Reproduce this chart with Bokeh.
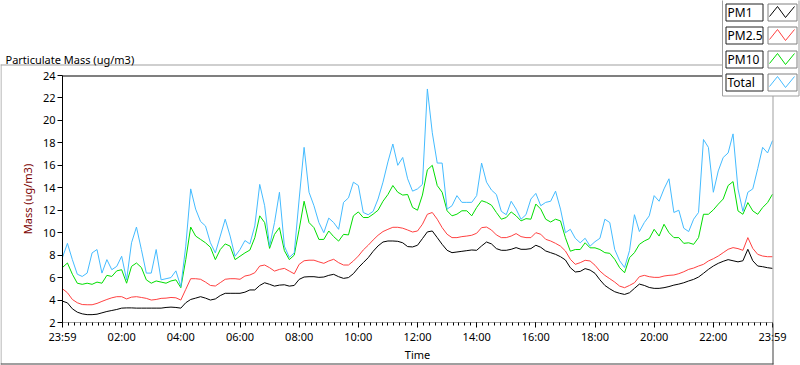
from bokeh.plotting import figure
from bokeh.models import Range1d, FixedTicker, BoxAnnotation, Label, Arrow
from bokeh.embed import file_html
from bokeh.resources import INLINE

# ---------------- data (minutes after 23:59, values in ug/m3) ----------------
minutes = list(range(0, 1441, 10))

pm1 = [3.9, 3.75, 3.22, 2.92, 2.77, 2.7, 2.7, 2.74, 2.86, 2.98, 3.07, 3.16,
       3.28, 3.3, 3.3, 3.28, 3.28, 3.28, 3.28, 3.28, 3.28, 3.34, 3.37, 3.34,
       3.28, 3.76, 4.05, 4.17, 4.3, 4.17, 4.0, 4.1, 4.4, 4.6, 4.6, 4.6,
       4.6, 4.7, 4.9, 4.9, 5.3, 5.54, 5.4, 5.24, 5.33, 5.36, 5.24, 5.3,
       5.84, 6.05, 6.08, 6.08, 6.02, 6.05, 6.2, 6.29, 6.08, 5.93, 6.0, 6.35,
       6.88, 7.33, 7.77, 8.34, 8.82, 9.17, 9.26, 9.26, 9.23, 9.1, 8.76, 8.73,
       8.88, 9.47, 10.07, 10.15, 9.56, 8.96, 8.43, 8.22, 8.28, 8.34, 8.4, 8.46,
       8.43, 8.82, 9.17, 9.0, 8.58, 8.43, 8.43, 8.52, 8.67, 8.52, 8.52, 8.58,
       8.88, 8.7, 8.37, 8.22, 8.07, 7.86, 7.57, 6.88, 6.5, 6.55, 6.8, 6.67,
       6.38, 5.8, 5.3, 5.0, 4.74, 4.6, 4.5, 4.65, 5.04, 5.42, 5.3, 5.12,
       5.04, 5.04, 5.1, 5.2, 5.33, 5.42, 5.54, 5.7, 5.84, 6.05, 6.38, 6.73,
       7.03, 7.27, 7.45, 7.6, 7.5, 7.4, 7.5, 8.52, 7.5, 7.03, 6.97, 6.88,
       6.82]

pm25 = [5.0, 4.65, 4.05, 3.76, 3.6, 3.58, 3.58, 3.7, 3.88, 4.05, 4.2, 4.3,
        4.3, 4.1, 4.26, 4.3, 4.23, 4.15, 4.0, 4.05, 4.15, 4.17, 4.23, 4.2,
        4.0, 4.95, 5.9, 5.9, 5.85, 5.6, 5.3, 5.25, 5.55, 5.85, 5.9, 5.9,
        5.85, 6.14, 6.23, 6.43, 7.03, 7.12, 6.88, 6.58, 6.73, 6.82, 6.58, 6.34,
        7.18, 7.5, 7.55, 7.55, 7.4, 7.27, 7.48, 7.63, 7.33, 7.12, 7.12, 7.48,
        7.92, 8.46, 8.88, 9.35, 9.77, 10.1, 10.3, 10.48, 10.48, 10.4, 10.24, 10.06,
        10.15, 10.75, 11.64, 11.8, 11.2, 10.45, 9.86, 9.56, 9.56, 9.65, 9.7, 9.77,
        9.95, 10.45, 10.5, 10.24, 9.8, 9.56, 9.56, 9.7, 9.92, 9.65, 9.56, 9.56,
        10.0, 9.86, 9.41, 9.26, 9.05, 8.8, 8.37, 7.63, 7.18, 7.33, 7.54, 7.48,
        7.1, 6.58, 6.2, 5.9, 5.6, 5.24, 5.1, 5.3, 5.54, 6.08, 6.2, 6.08,
        6.02, 6.02, 6.14, 6.2, 6.23, 6.35, 6.52, 6.73, 6.85, 7.03, 7.18, 7.48,
        7.68, 7.92, 8.22, 8.52, 8.67, 8.58, 8.43, 9.56, 8.6, 8.07, 7.92, 7.86,
        7.86]

pm10 = [6.9, 7.3, 6.3, 5.5, 5.4, 5.5, 5.4, 5.6, 5.5, 6.2, 6.1, 6.6,
        6.7, 5.5, 7.0, 7.3, 6.9, 5.8, 5.5, 5.7, 5.6, 5.5, 5.7, 5.8,
        5.1, 7.6, 10.5, 9.7, 9.4, 9.1, 8.7, 7.6, 8.5, 9.0, 8.8, 7.6,
        7.9, 8.2, 8.45, 9.55, 11.5, 10.9, 8.6, 9.85, 10.45, 8.4, 7.6, 8.0,
        10.3, 12.8, 10.9, 10.45, 9.4, 9.4, 10.15, 9.65, 9.25, 9.85, 9.8, 11.5,
        11.85, 11.35, 11.35, 11.65, 12.0, 12.8, 13.4, 14.2, 13.6, 13.35, 13.4, 12.25,
        12.0, 13.35, 15.6, 16.0, 14.2, 13.6, 11.95, 11.5, 11.65, 11.95, 11.95, 11.5,
        12.25, 12.85, 12.7, 12.45, 11.8, 11.2, 11.35, 11.85, 11.5, 11.05, 11.25, 11.2,
        12.55, 12.1, 11.2, 10.95, 11.2, 11.05, 9.55, 8.35, 8.5, 8.5, 9.1, 8.65,
        8.65, 8.5, 8.22, 8.16, 7.63, 6.88, 6.43, 7.77, 8.22, 8.96, 9.26, 9.47,
        10.3, 9.7, 10.75, 10.0, 9.56, 9.56, 9.05, 9.1, 8.96, 9.56, 11.64, 11.64,
        12.03, 12.54, 13.0, 14.2, 14.55, 11.94, 11.64, 12.68, 11.94, 11.64, 12.24, 12.68,
        13.43]

total = [7.8, 9.05, 7.6, 6.3, 6.1, 6.4, 8.2, 8.5, 6.4, 7.6, 6.7, 7.0,
         7.9, 5.8, 9.1, 10.5, 8.5, 6.4, 6.4, 8.5, 5.8, 5.9, 6.0, 6.6,
         5.2, 8.8, 13.9, 12.1, 11.0, 10.6, 9.1, 8.2, 9.7, 11.2, 9.7, 7.9,
         8.5, 9.3, 9.0, 10.6, 14.3, 12.4, 8.8, 10.9, 13.6, 8.8, 7.8, 8.2,
         13.0, 17.6, 13.6, 12.4, 10.9, 10.0, 11.3, 10.9, 10.3, 12.7, 13.1, 14.5,
         14.2, 11.8, 11.6, 11.9, 13.0, 14.5, 16.3, 17.9, 16.0, 16.7, 14.8, 13.7,
         13.9, 14.3, 22.8, 18.9, 16.2, 16.2, 12.1, 12.4, 13.3, 12.7, 12.7, 12.7,
         13.3, 16.2, 14.5, 13.8, 13.4, 11.9, 11.6, 12.8, 12.1, 11.2, 11.6, 13.0,
         13.5, 12.4, 12.7, 12.8, 13.7, 12.1, 10.0, 10.3, 9.5, 9.1, 9.5, 8.8,
         9.2, 9.5, 11.2, 10.9, 8.5, 7.5, 6.9, 8.4, 11.6, 10.1, 10.9, 11.5,
         13.3, 12.8, 13.9, 14.8, 11.8, 12.0, 10.4, 10.1, 11.2, 11.8, 18.3, 17.6,
         13.6, 15.5, 16.7, 17.1, 18.8, 13.9, 11.9, 13.6, 13.9, 15.7, 17.6, 17.1,
         18.2]

series_names = ["PM1", "PM2.5", "PM10", "Total"]
series_colors = ["#000000", "#ff4040", "#00dd00", "#44bbff"]

x_tick_minutes = [0, 120, 240, 360, 480, 600, 720, 840, 960, 1080, 1200, 1320, 1440]
x_tick_labels = ["23:59", "02:00", "04:00", "06:00", "08:00", "10:00", "12:00",
                 "14:00", "16:00", "18:00", "20:00", "22:00", "23:59"]
x_minor_minutes = list(range(0, 1441, 12))
y_ticks = [2, 4, 6, 8, 10, 12, 14, 16, 18, 20, 22, 24]
X_MIN, X_MAX = 0, 1440
Y_MIN, Y_MAX = 2, 24

# ---------------- layout (page pixel coordinates) ----------------
W, H = 800, 365
FL, FR, FT, FB = 62, 772, 75, 322   # plot area edges on the page
FONT = "Noto Sans"

# the canvas is the whole frame; the ranges are widened so that the data
# window [X_MIN, X_MAX] x [Y_MIN, Y_MAX] lands on the plot area FL..FR, FT..FB
kx = (X_MAX - X_MIN) / (FR - FL)
ky = (Y_MAX - Y_MIN) / (FB - FT)
x_range = Range1d(X_MIN - FL * kx, X_MIN + (W - FL) * kx)
y_range = Range1d(Y_MIN - (H - FB) * ky, Y_MIN + FB * ky)


def sx(px):
    return px


def sy(py):
    return H - py


p = figure(width=W, height=H, output_backend="svg", toolbar_location=None,
           x_range=x_range, y_range=y_range,
           min_border=0, min_border_left=0, min_border_right=0,
           min_border_top=0, min_border_bottom=0)
p.outline_line_color = None
p.grid.visible = False
p.background_fill_color = "white"
p.border_fill_color = "white"

for ys, col in zip([pm1, pm25, pm10, total], series_colors):
    p.line(minutes, ys, line_color=col, line_width=1)

# x axis
xa = p.xaxis[0]
xa.fixed_location = Y_MIN
xa.bounds = (X_MIN, X_MAX)
xa.ticker = FixedTicker(ticks=x_tick_minutes, minor_ticks=x_minor_minutes)
xa.major_label_overrides = {m: l for m, l in zip(x_tick_minutes, x_tick_labels)}
xa.axis_line_color = "#a0a0a0"
xa.major_tick_line_color = "#000000"
xa.minor_tick_line_color = "#000000"
xa.major_tick_in = 0
xa.major_tick_out = 5
xa.minor_tick_in = 0
xa.minor_tick_out = 3
xa.major_label_standoff = 1
xa.major_label_text_font = FONT
xa.major_label_text_font_size = "11px"
xa.major_label_text_color = "#000000"
xa.axis_label = "Time"
xa.axis_label_text_font = FONT
xa.axis_label_text_font_size = "11px"
xa.axis_label_text_font_style = "normal"
xa.axis_label_text_color = "#000000"
xa.axis_label_standoff = 0

# y axis
ya = p.yaxis[0]
ya.fixed_location = X_MIN
ya.bounds = (Y_MIN, Y_MAX)
ya.ticker = FixedTicker(ticks=y_ticks)
ya.axis_line_color = "#000000"
ya.major_tick_line_color = "#000000"
ya.minor_tick_line_color = None
ya.major_tick_in = 0
ya.major_tick_out = 5
ya.major_label_standoff = 2
ya.major_label_text_font = FONT
ya.major_label_text_font_size = "11px"
ya.major_label_text_color = "#000000"
ya.axis_label = "Mass (ug/m3)"
ya.axis_label_text_font = FONT
ya.axis_label_text_font_size = "11px"
ya.axis_label_text_font_style = "normal"
ya.axis_label_text_color = "#7a0000"
ya.axis_label_standoff = 5


def hbar(x0, x1, y0, y1, color):
    p.add_layout(BoxAnnotation(left=sx(x0), right=sx(x1), top=sy(y0), bottom=sy(y1),
                               left_units="screen", right_units="screen",
                               top_units="screen", bottom_units="screen",
                               fill_color=color, fill_alpha=1, line_color=None))


# frame lines
hbar(FL, 722, FT, FT + 1, "#000000")          # plot top edge
hbar(FR, FR + 1, 95, FB + 1, "#a0a0a0")       # plot right edge
hbar(FR, FR + 1, FB + 1, 364, "#404040")
hbar(0, 722, 64, 65, "#a0a0a0")               # outer top
hbar(0, 1, 64, 364, "#a0a0a0")                # outer left
hbar(0, FR + 1, 363, 364, "#404040")          # outer bottom

# title
p.add_layout(Label(x=sx(5), y=sy(59), x_units="screen", y_units="screen",
                   text="Particulate Mass (ug/m3)", text_font=FONT,
                   text_font_size="11px", text_color="#000000",
                   text_baseline="alphabetic", text_align="left"))

# legend panel
p.add_layout(BoxAnnotation(left=sx(722), right=sx(798.5), top=sy(-1), bottom=sy(95.5),
                           left_units="screen", right_units="screen",
                           top_units="screen", bottom_units="screen",
                           fill_color="white", fill_alpha=1,
                           line_color="#a0a0a0", line_alpha=1, line_width=1))
for i, (name, col) in enumerate(zip(series_names, series_colors)):
    top = round(3 + i * 23.3)
    bot = top + 17
    p.add_layout(BoxAnnotation(left=sx(725.5), right=sx(762.5), top=sy(top + 0.5), bottom=sy(bot + 0.5),
                               left_units="screen", right_units="screen",
                               top_units="screen", bottom_units="screen",
                               fill_color="white", fill_alpha=1,
                               line_color="#202020", line_alpha=1, line_width=1))
    p.add_layout(BoxAnnotation(left=sx(767.5), right=sx(796.5), top=sy(top + 0.5), bottom=sy(bot + 0.5),
                               left_units="screen", right_units="screen",
                               top_units="screen", bottom_units="screen",
                               fill_color="white", fill_alpha=1,
                               line_color="#808080", line_alpha=1, line_width=1))
    p.add_layout(Label(x=sx(727), y=sy(top + 9), x_units="screen", y_units="screen",
                       text=name, text_font=FONT, text_font_size="12px",
                       text_color="#000000", text_baseline="middle", text_align="left"))
    zz = [(769, bot - 4), (777, top + 3), (785, bot - 3), (794, top + 3)]
    for (xa0, ya0), (xa1, ya1) in zip(zz[:-1], zz[1:]):
        p.add_layout(Arrow(x_start=sx(xa0), y_start=sy(ya0), x_end=sx(xa1), y_end=sy(ya1),
                           start_units="screen", end_units="screen", start=None, end=None,
                           line_color=col, line_width=1))

open("out.html", "w").write(file_html(p, INLINE))
